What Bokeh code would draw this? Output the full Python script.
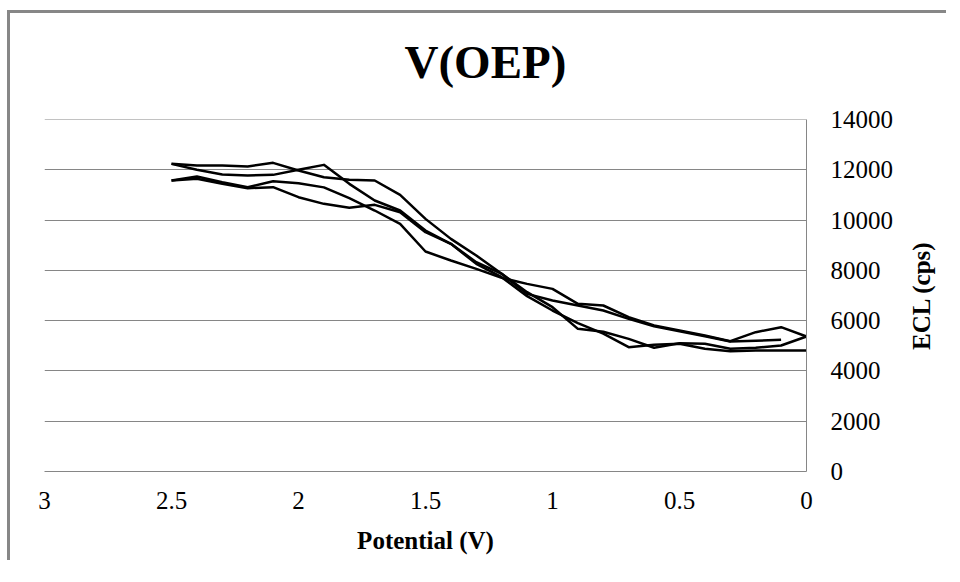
import math
from bokeh.plotting import figure
from bokeh.layouts import row
from bokeh.models import Range1d, FixedTicker, Span
from bokeh.core.properties import value
from bokeh.embed import file_html
from bokeh.resources import INLINE

# ---- data ----
potential = [2.5, 2.4, 2.3, 2.2, 2.1, 2.0, 1.9, 1.8, 1.7, 1.6, 1.5, 1.4, 1.3,
             1.2, 1.1, 1.0, 0.9, 0.8, 0.7, 0.6, 0.5, 0.4, 0.3, 0.2, 0.1, 0.0]

ecl_1 = [12236, 12170, 12170, 12130, 12276, 11971, 11706, 11600, 11573, 11000,
         10048, 9252, 8590, 7861, 7132, 6535, 5674, 5560, 5276, 4920,
         5104, 5077, 4879, 4919, 5011, 5369]
ecl_2 = [12236, 12000, 11812, 11772, 11798, 11998, 12196, 11441, 10777, 10380,
         9584, 9054, 8259, 7728, 6973, 6403, 5900, 5480, 4945, 5038,
         5077, 4879, 4786, 4812, 4812, 4812]
ecl_3 = [11573, 11732, 11507, 11308, 11547, 11467, 11300, 10870, 10380, 9849,
         8749, 8391, 8060, 7700, 7463, 7264, 6668, 6602, 6138, 5806,
         5607, 5409, 5183, 5541, 5740, 5369]
ecl_4 = [11573, 11640, 11441, 11268, 11308, 10910, 10645, 10486, 10605, 10313,
         9517, 9054, 8325, 7861, 7066, 6801, 6602, 6403, 6072, 5780,
         5580, 5380, 5170, 5196, 5236]

series = [ecl_1, ecl_2, ecl_3, ecl_4]

x_ticks = [3, 2.5, 2, 1.5, 1, 0.5, 0]
x_tick_labels = ["3", "2.5", "2", "1.5", "1", "0.5", "0"]
y_ticks = [0, 2000, 4000, 6000, 8000, 10000, 12000, 14000]
y_tick_labels = ["0", "2000", "4000", "6000", "8000", "10000", "12000", "14000"]

title_text = "V(OEP)"
x_title = "Potential (V)"
y_title = "ECL (cps)"

FONT = "Liberation Serif"
GRID = "#868686"
FRAME = "#878787"
HEIGHT, TOP, BOTTOM = 560, 119, 89

y_range = Range1d(y_ticks[0], y_ticks[-1])

p = figure(width=896, height=HEIGHT, output_backend="svg", toolbar_location=None,
           x_range=Range1d(x_ticks[0], x_ticks[-1]), y_range=y_range,
           y_axis_location="right",
           min_border_left=44, min_border_right=89,
           min_border_top=TOP, min_border_bottom=BOTTOM,
           background_fill_color="white", border_fill_color=None)
p.outline_line_color = None

# title
p.title.text = title_text
p.title.align = "left"
p.title.text_font = FONT
p.title.text_font_size = "47px"
p.title.text_font_style = "bold"
p.title.text_color = "black"
p.title.standoff = 64
p.title.offset = 360

# x axis
xa = p.xaxis[0]
xa.ticker = FixedTicker(ticks=x_ticks)
xa.major_label_overrides = {t: l for t, l in zip(x_ticks, x_tick_labels)}
xa.major_tick_line_color = None
xa.minor_tick_line_color = None
xa.axis_line_color = GRID
xa.major_label_text_font = FONT
xa.major_label_text_font_size = "25px"
xa.major_label_text_color = "black"
xa.major_label_standoff = 14
xa.axis_label = x_title
xa.axis_label_text_font = FONT
xa.axis_label_text_font_size = "25px"
xa.axis_label_text_font_style = "bold"
xa.axis_label_text_color = "black"
xa.axis_label_standoff = 15

# y axis (right)
ya = p.yaxis[0]
ya.ticker = FixedTicker(ticks=y_ticks)
ya.major_label_overrides = {t: l for t, l in zip(y_ticks, y_tick_labels)}
ya.major_tick_line_color = None
ya.minor_tick_line_color = None
ya.axis_line_color = GRID
ya.major_label_text_font = FONT
ya.major_label_text_font_size = "25px"
ya.major_label_text_color = "black"
ya.major_label_standoff = 18

p.xgrid.visible = False
p.ygrid.grid_line_color = GRID
p.ygrid.grid_line_width = 1
p.add_layout(Span(location=y_ticks[-1], dimension="width",
                  line_color=GRID, line_width=1))

for s in series:
    p.line(potential[:len(s)], s, line_color="black", line_width=2.5,
           line_join="round")

# narrow strip on the right that carries the rotated y-axis title
q = figure(width=50, height=HEIGHT, output_backend="svg", toolbar_location=None,
           x_range=Range1d(0, 1), y_range=y_range,
           x_axis_location=None, y_axis_location=None,
           min_border_left=0, min_border_right=0,
           min_border_top=TOP, min_border_bottom=BOTTOM,
           background_fill_color=None, border_fill_color=None)
q.outline_line_color = None
q.grid.visible = False
y_mid = (y_ticks[0] + y_ticks[-1]) / 2
q.text(x=[0.5], y=[y_mid], text=[y_title], angle=math.pi / 2,
       text_align="center", text_baseline="middle",
       text_font=value(FONT), text_font_size=value("25px"),
       text_font_style=value("bold"), text_color="black")

layout = row(p, q)
# chart-area frame: grey rules along the left and top edges (background only)
layout.styles = {
    "background-color": "white",
    "background-image": f"linear-gradient({FRAME}, {FRAME}), linear-gradient({FRAME}, {FRAME})",
    "background-size": "3px 100%, 100% 3px",
    "background-position": "7px 10px, 7px 10px",
    "background-repeat": "no-repeat",
}
open("out.html", "w").write(file_html(layout, INLINE))
